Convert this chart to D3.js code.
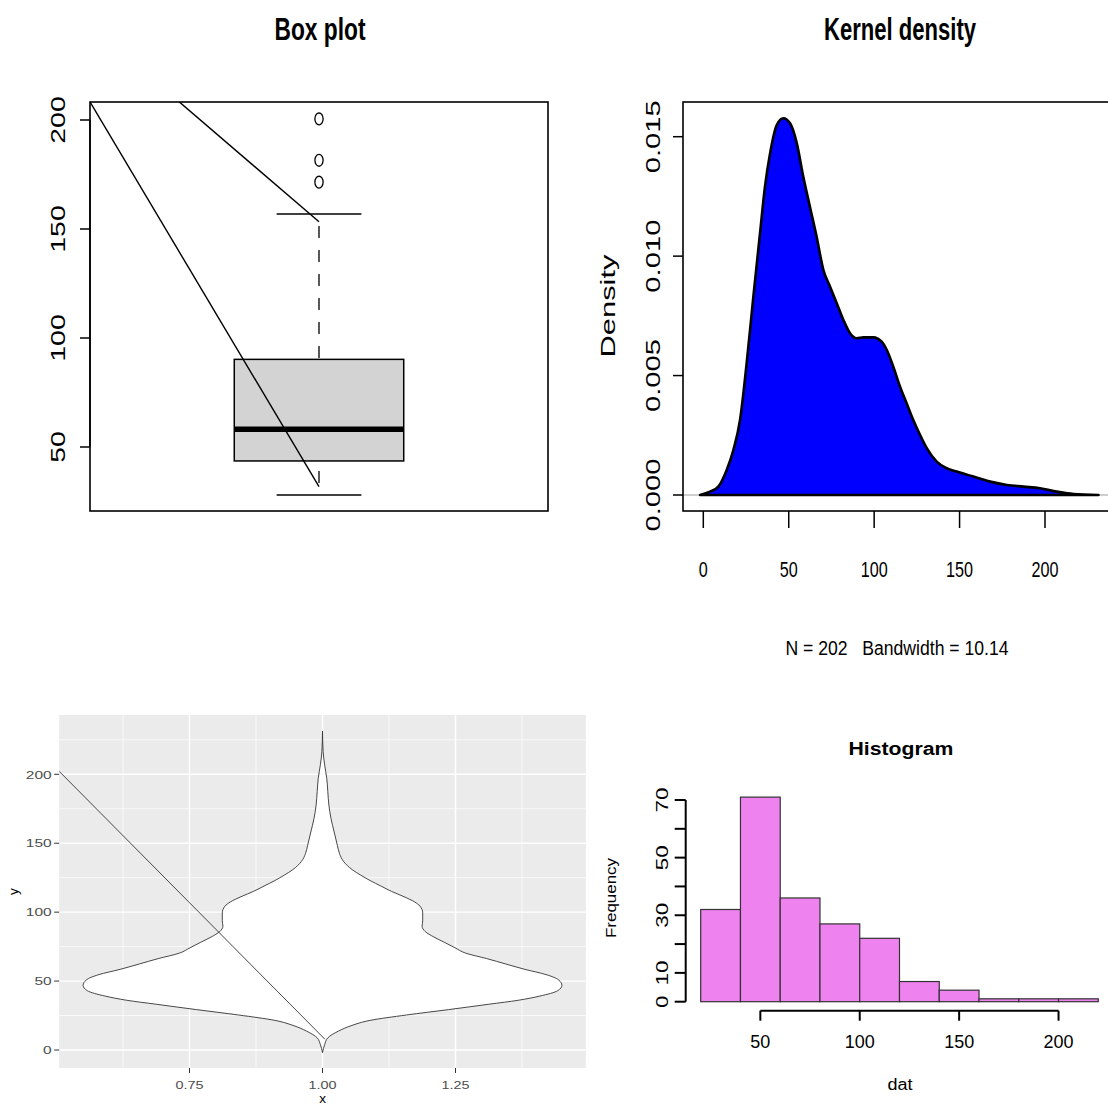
<!DOCTYPE html>
<html><head><meta charset="utf-8">
<script src="https://cdn.jsdelivr.net/npm/d3@7"></script>
<style>
body{margin:0;background:#fff}
svg{display:block}
text{font-family:"Liberation Sans",Arial,Helvetica,sans-serif;white-space:pre}
</style>
</head><body>
<svg id="c" width="1108" height="1106"></svg>
<script>
// ---------------- data ----------------
// Box plot: lower whisker, Q1, median, Q3, upper whisker
const boxValues = [28.0, 43.6, 58.1, 90.2, 156.9];
const boxOutliers = [171.5, 181.5, 200.5];
const boxYTicks = [50, 100, 150, 200];
// two reference segments drawn on the box plot: [x1, y1, x2, y2]
const boxSegments = [[0.5, 208.3, 1.0, 31.8], [0.695, 208.3, 1.0, 153.3]];

// Kernel density estimate (N = 202, bw = 10.14)
const densityX = [-1.9, 3.9, 8.8, 13.7, 17.6, 21.5, 25.4, 29.3, 33.2, 36.1, 39.1, 43.0, 46.9, 50.8, 54.7, 58.5, 62.4, 66.3, 70.3, 74.2, 78.1, 82.0, 85.9, 89.8, 93.7, 99.5, 104.4, 107.4, 111.2, 115.1, 119.0, 122.9, 126.9, 130.8, 136.6, 142.5, 148.4, 158.1, 167.9, 177.7, 187.4, 197.1, 206.9, 216.7, 231.3];
const densityY = [0, 0.00014, 0.00035, 0.00105, 0.00188, 0.00314, 0.00553, 0.0083, 0.01096, 0.01291, 0.01431, 0.01549, 0.01577, 0.01556, 0.01473, 0.01333, 0.01207, 0.01082, 0.00942, 0.00872, 0.00803, 0.00733, 0.00677, 0.00656, 0.0066, 0.0066, 0.00642, 0.00607, 0.00537, 0.00454, 0.00384, 0.00314, 0.00251, 0.00196, 0.0014, 0.00112, 0.00098, 0.00077, 0.00056, 0.00042, 0.00035, 0.00028, 0.00014, 0.00004, 0];
const densityXTicks = [0, 50, 100, 150, 200];
const densityYTicks = [0, 0.005, 0.010, 0.015];
const densityYLabels = ["0.000", "0.005", "0.010", "0.015"];
const densitySub = "N = 202   Bandwidth = 10.14";

// Violin (ggplot)
const violinYTicks = [0, 50, 100, 150, 200];
const violinYMinor = [25, 75, 125, 175, 225];
const violinXTicks = [0.75, 1.00, 1.25];
const violinXLabels = ["0.75", "1.00", "1.25"];
const violinXMinor = [0.625, 0.875, 1.125, 1.375];
const violinLine = [[0.505, 202.2], [1.0045, 7.8]];

// Histogram
const histBreaks = [20, 40, 60, 80, 100, 120, 140, 160, 180, 200, 220];
const histCounts = [32, 71, 36, 27, 22, 7, 4, 1, 1, 1];
const histYTicks = [0, 10, 20, 30, 40, 50, 60, 70];
const histYLabels = [0, 10, 30, 50, 70];
const histXTicks = [50, 100, 150, 200];

// ---------------- helpers ----------------
const svg = d3.select("#c");
function txt(g, s, x, y, o = {}) {
  const t = g.append("text")
    .attr("transform", `translate(${x},${y})` + (o.rot ? ` rotate(${o.rot})` : ""))
    .attr("text-anchor", o.anchor || "middle")
    .attr("font-size", o.size || 12)
    .attr("font-weight", o.bold ? "bold" : null)
    .attr("fill", o.fill || "#000")
    .attr("xml:space", "preserve")
    .text(s);
  if (o.len) t.attr("textLength", o.len).attr("lengthAdjust", "spacingAndGlyphs");
  return t;
}
const defs = svg.append("defs");

// ---------------- Box plot ----------------
{
  const g = svg.append("g");
  const bx = d3.scaleLinear().domain([0.5, 1.5]).range([90, 548]);
  const by = d3.scaleLinear().domain([50, 200]).range([447, 120]);
  const fx0 = 90, fx1 = 548, fy0 = 102, fy1 = 511;
  defs.append("clipPath").attr("id", "clipBox").append("rect")
    .attr("x", fx0).attr("y", fy0).attr("width", fx1 - fx0).attr("height", fy1 - fy0);
  const [lo, q1, med, q3, hi] = boxValues;
  const hw = 0.185, cw = 0.0925;
  g.append("line").attr("x1", bx(1)).attr("x2", bx(1)).attr("y1", by(hi)).attr("y2", by(q3))
    .attr("stroke", "#000").attr("stroke-width", 1.3).attr("stroke-dasharray", "12,12").attr("stroke-dashoffset", 12);
  g.append("line").attr("x1", bx(1)).attr("x2", bx(1)).attr("y1", by(lo)).attr("y2", by(q1))
    .attr("stroke", "#000").attr("stroke-width", 1.3).attr("stroke-dasharray", "12,12").attr("stroke-dashoffset", 12);
  g.append("rect").attr("x", bx(1 - hw)).attr("y", by(q3)).attr("width", bx(1 + hw) - bx(1 - hw))
    .attr("height", by(q1) - by(q3)).attr("fill", "#D3D3D3").attr("stroke", "#000").attr("stroke-width", 1.5);
  g.append("line").attr("x1", bx(1 - hw)).attr("x2", bx(1 + hw)).attr("y1", by(med)).attr("y2", by(med))
    .attr("stroke", "#000").attr("stroke-width", 5.5);
  [lo, hi].forEach(v => g.append("line").attr("x1", bx(1 - cw)).attr("x2", bx(1 + cw))
    .attr("y1", by(v)).attr("y2", by(v)).attr("stroke", "#000").attr("stroke-width", 1.5));
  g.selectAll("ellipse.out").data(boxOutliers).enter().append("ellipse")
    .attr("cx", bx(1)).attr("cy", d => by(d)).attr("rx", 4.1).attr("ry", 5.9)
    .attr("fill", "none").attr("stroke", "#000").attr("stroke-width", 1.3);
  g.append("g").attr("clip-path", "url(#clipBox)").selectAll("line").data(boxSegments).enter().append("line")
    .attr("x1", d => bx(d[0])).attr("y1", d => by(d[1])).attr("x2", d => bx(d[2])).attr("y2", d => by(d[3]))
    .attr("stroke", "#000").attr("stroke-width", 1.4);
  g.append("rect").attr("x", fx0).attr("y", fy0).attr("width", fx1 - fx0).attr("height", fy1 - fy0)
    .attr("fill", "none").attr("stroke", "#000").attr("stroke-width", 1.6);
  g.append("line").attr("x1", fx0).attr("x2", fx0).attr("y1", by(50)).attr("y2", by(200)).attr("stroke", "#000").attr("stroke-width", 1.5);
  boxYTicks.forEach(t => {
    g.append("line").attr("x1", fx0 - 10).attr("x2", fx0).attr("y1", by(t)).attr("y2", by(t)).attr("stroke", "#000").attr("stroke-width", 1.5);
    const s = String(t);
    txt(g, s, 65, by(t), { rot: -90, size: 21, len: s.length * 15.8 });
  });
  txt(g, "Box plot", 320, 40, { size: 32, bold: true, len: 91 });
}

// ---------------- Kernel density ----------------
{
  const g = svg.append("g");
  const dx = d3.scaleLinear().domain([0, 200]).range([703.3, 1045]);
  const dy = d3.scaleLinear().domain([0, 0.015]).range([495, 136.7]);
  const fx0 = 683, fx1 = 1114.4, fy0 = 102, fy1 = 511;
  g.append("line").attr("x1", fx0).attr("x2", fx1).attr("y1", dy(0)).attr("y2", dy(0))
    .attr("stroke", "#BEBEBE").attr("stroke-width", 1.5);
  const pts = densityX.map((x, i) => [x, densityY[i]]);
  const line = d3.line().x(d => dx(d[0])).y(d => dy(d[1])).curve(d3.curveMonotoneX);
  g.append("path").attr("d", line(pts) + "Z").attr("fill", "#0000FF").attr("stroke", "#000")
    .attr("stroke-width", 2.6).attr("stroke-linejoin", "round");
  g.append("rect").attr("x", fx0).attr("y", fy0).attr("width", fx1 - fx0).attr("height", fy1 - fy0)
    .attr("fill", "none").attr("stroke", "#000").attr("stroke-width", 1.6);
  densityYTicks.forEach((t, i) => {
    g.append("line").attr("x1", fx0 - 10).attr("x2", fx0).attr("y1", dy(t)).attr("y2", dy(t)).attr("stroke", "#000").attr("stroke-width", 1.5);
    txt(g, densityYLabels[i], 660, dy(t), { rot: -90, size: 21, len: 73 });
  });
  densityXTicks.forEach(t => {
    g.append("line").attr("x1", dx(t)).attr("x2", dx(t)).attr("y1", fy1).attr("y2", fy1 + 17).attr("stroke", "#000").attr("stroke-width", 1.5);
    const s = String(t);
    txt(g, s, dx(t), 577, { size: 22, len: s.length * 9 });
  });
  txt(g, "Density", 615, 306, { rot: -90, size: 20, len: 103 });
  txt(g, densitySub, 897, 655, { size: 19.5, len: 223 });
  txt(g, "Kernel density", 900, 40, { size: 32, bold: true, len: 152 });
}

// ---------------- Violin (ggplot) ----------------
{
  const g = svg.append("g");
  const vx = d3.scaleLinear().domain([0.75, 1.25]).range([189.5, 455.5]);
  const vy = d3.scaleLinear().domain([0, 200]).range([1050, 774.3]);
  const px0 = vx(0.505), px1 = vx(1.495), py0 = 715, py1 = 1068;
  defs.append("clipPath").attr("id", "clipVio").append("rect")
    .attr("x", px0).attr("y", py0).attr("width", px1 - px0).attr("height", py1 - py0);
  g.append("rect").attr("x", px0).attr("y", py0).attr("width", px1 - px0).attr("height", py1 - py0).attr("fill", "#EBEBEB");
  violinYMinor.forEach(t => g.append("line").attr("x1", px0).attr("x2", px1).attr("y1", vy(t)).attr("y2", vy(t)).attr("stroke", "#fff").attr("stroke-width", 0.7));
  violinXMinor.forEach(t => g.append("line").attr("x1", vx(t)).attr("x2", vx(t)).attr("y1", py0).attr("y2", py1).attr("stroke", "#fff").attr("stroke-width", 0.7));
  violinYTicks.forEach(t => g.append("line").attr("x1", px0).attr("x2", px1).attr("y1", vy(t)).attr("y2", vy(t)).attr("stroke", "#fff").attr("stroke-width", 1.4));
  violinXTicks.forEach(t => g.append("line").attr("x1", vx(t)).attr("x2", vx(t)).attr("y1", py0).attr("y2", py1).attr("stroke", "#fff").attr("stroke-width", 1.4));
  const maxD = d3.max(densityY);
  const vpts = densityX.map((y, i) => [y, 0.45 * densityY[i] / maxD]);
  const area = d3.area().y(d => vy(d[0])).x0(d => vx(1 - d[1])).x1(d => vx(1 + d[1])).curve(d3.curveMonotoneY);
  const cg = g.append("g").attr("clip-path", "url(#clipVio)");
  cg.append("path").attr("d", area(vpts)).attr("fill", "#fff").attr("stroke", "#333").attr("stroke-width", 0.9);
  cg.append("line").attr("x1", vx(violinLine[0][0])).attr("y1", vy(violinLine[0][1]))
    .attr("x2", vx(violinLine[1][0])).attr("y2", vy(violinLine[1][1])).attr("stroke", "#333").attr("stroke-width", 0.9);
  violinYTicks.forEach(t => {
    g.append("line").attr("x1", px0 - 5).attr("x2", px0).attr("y1", vy(t)).attr("y2", vy(t)).attr("stroke", "#333").attr("stroke-width", 1);
    const s = String(t);
    txt(g, s, px0 - 7.5, vy(t) + 4.2, { size: 11.5, anchor: "end", fill: "#4D4D4D", len: s.length * 8.6 });
  });
  violinXTicks.forEach((t, i) => {
    g.append("line").attr("x1", vx(t)).attr("x2", vx(t)).attr("y1", py1).attr("y2", py1 + 5).attr("stroke", "#333").attr("stroke-width", 1);
    txt(g, violinXLabels[i], vx(t), 1089, { size: 11.5, fill: "#4D4D4D", len: 28 });
  });
  txt(g, "x", vx(1), 1103, { size: 13.5 });
  txt(g, "y", 18, (py0 + py1) / 2, { size: 13.5, rot: -90 });
}

// ---------------- Histogram ----------------
{
  const g = svg.append("g");
  const hx = d3.scaleLinear().domain([20, 220]).range([700.7, 1098.3]);
  const hy = d3.scaleLinear().domain([0, 70]).range([1001.7, 800]);
  const bins = histCounts.map((c, i) => ({ x0: histBreaks[i], x1: histBreaks[i + 1], c }));
  g.selectAll("rect.bar").data(bins).enter().append("rect")
    .attr("x", d => hx(d.x0)).attr("y", d => hy(d.c)).attr("width", d => hx(d.x1) - hx(d.x0))
    .attr("height", d => hy(0) - hy(d.c)).attr("fill", "#EE82EE").attr("stroke", "#333").attr("stroke-width", 1.2);
  const ax = 685.7;
  g.append("line").attr("x1", ax).attr("x2", ax).attr("y1", hy(0)).attr("y2", hy(70)).attr("stroke", "#000").attr("stroke-width", 2);
  histYTicks.forEach(t => g.append("line").attr("x1", ax - 11).attr("x2", ax).attr("y1", hy(t)).attr("y2", hy(t)).attr("stroke", "#000").attr("stroke-width", 2));
  histYLabels.forEach(t => {
    const s = String(t);
    txt(g, s, 668, hy(t), { rot: -90, size: 16, len: s.length * 12.5 });
  });
  const ay = 1010.7;
  g.append("line").attr("x1", hx(50)).attr("x2", hx(200)).attr("y1", ay).attr("y2", ay).attr("stroke", "#000").attr("stroke-width", 2);
  histXTicks.forEach(t => {
    g.append("line").attr("x1", hx(t)).attr("x2", hx(t)).attr("y1", ay).attr("y2", ay + 10).attr("stroke", "#000").attr("stroke-width", 2);
    const s = String(t);
    txt(g, s, hx(t), 1048, { size: 18.5, len: s.length * 10 });
  });
  txt(g, "dat", 900, 1090, { size: 16, len: 25 });
  txt(g, "Frequency", 616, 898, { rot: -90, size: 14, len: 80 });
  txt(g, "Histogram", 901, 755, { size: 17.5, bold: true, len: 105 });
}
</script>
</body></html>
